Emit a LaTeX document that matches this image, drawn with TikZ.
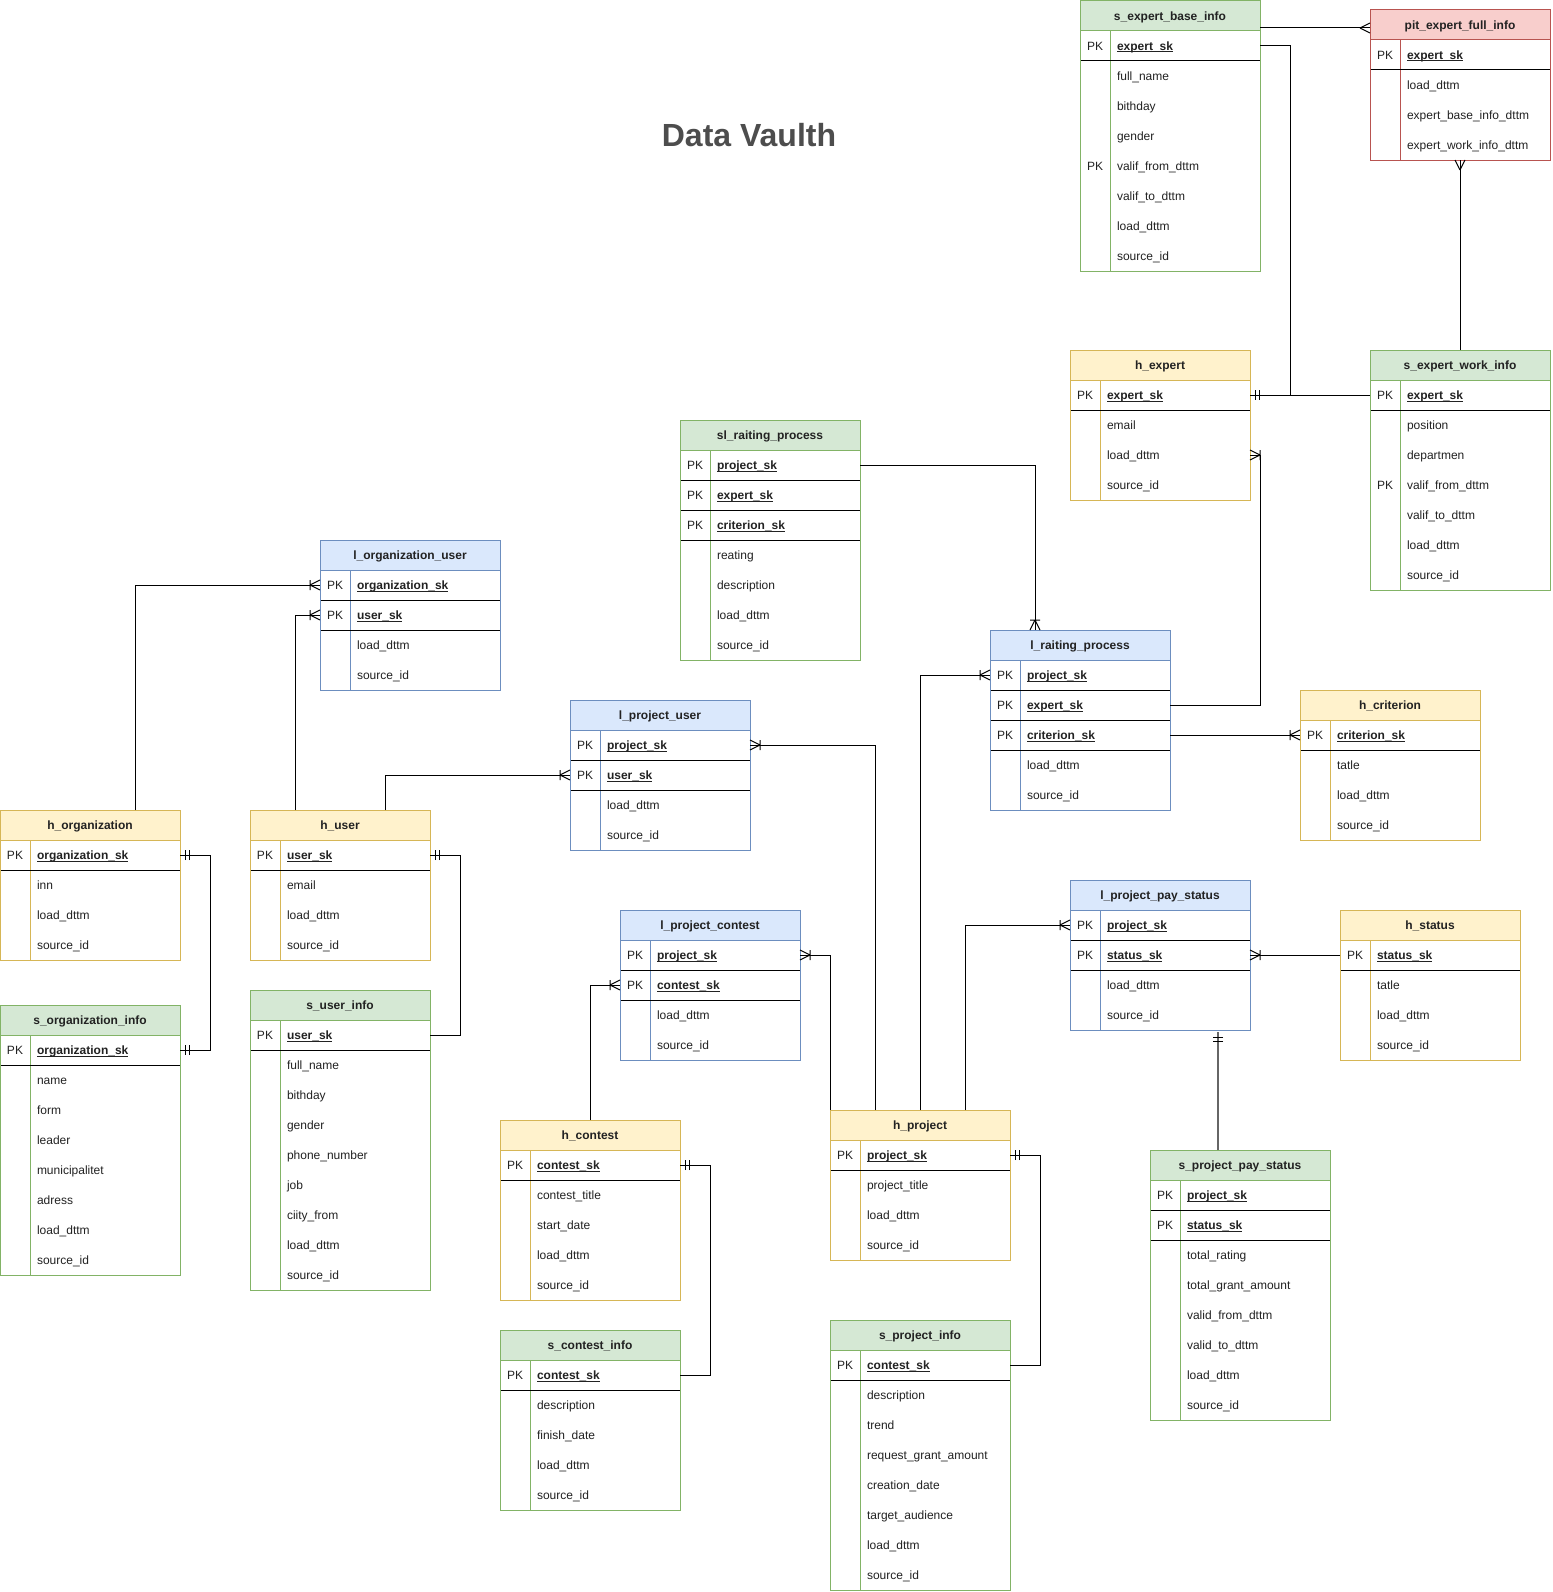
\documentclass[tikz,border=0pt]{standalone}
\usepackage{fontspec}
\setmainfont{Liberation Sans}
\usetikzlibrary{decorations.markings}

% draw.io palette
\definecolor{yfill}{HTML}{FFF2CC}\definecolor{yline}{HTML}{D6B656}
\definecolor{gfill}{HTML}{D5E8D4}\definecolor{gline}{HTML}{82B366}
\definecolor{bfill}{HTML}{DAE8FC}\definecolor{bline}{HTML}{6C8EBF}
\definecolor{rfill}{HTML}{F8CECC}\definecolor{rline}{HTML}{B85450}
\definecolor{titlegray}{HTML}{4D4D4D}
\definecolor{linkgray}{HTML}{666666}
\definecolor{textcol}{HTML}{222222}

\tikzset{
  tabhead/.style={minimum width=180pt, minimum height=30pt, inner sep=0pt, outer sep=0pt,
                  line width=1pt, fill=#1fill, draw=#1line},
  rowcell/.style={minimum width=180pt, minimum height=30pt, inner sep=0pt, outer sep=0pt},
  celltext/.style={inner sep=0pt, outer sep=0pt, text=textcol, font=\fontsize{12}{14}\selectfont},
  keytext/.style={inner sep=0pt, outer sep=0pt, text=textcol, font=\fontsize{12}{14}\selectfont\bfseries},
  headtext/.style={inner sep=0pt, outer sep=0pt, text=textcol, font=\fontsize{12}{14}\selectfont\bfseries},
  conn/.style={draw=black, line width=1pt},
  conngray/.style={draw=linkgray, line width=1.6pt},
  erend/.style={postaction={decorate,decoration={markings,mark=at position 1 with {#1}}}},
  erstart/.style={postaction={decorate,decoration={markings,mark=at position 0 with {\begin{scope}[xscale=-1]#1\end{scope}}}}},
}

% crow's-foot notation symbols (endpoint at origin, line arriving from -x)
\newcommand\symOne{\draw[black, line width=1pt] (-5pt,-5pt) -- (-5pt,5pt) (-9pt,-5pt) -- (-9pt,5pt);}
\newcommand\symMany{\draw[black, line width=1pt] (-10pt,0pt) -- (0pt,5pt) (-10pt,0pt) -- (0pt,-5pt);}
\newcommand\symOneMany{\draw[black, line width=1pt] (-10pt,0pt) -- (0pt,5pt) (-10pt,0pt) -- (0pt,-5pt) (-10pt,-5pt) -- (-10pt,5pt);}

\def\ertK{k}\def\ertN{n}
% \ertable{name}{left}{top}{theme}{title}{kind/field,...}  kind: k = key, p = PK flag only, n = plain
\newcommand\ertable[6]{%
  \node[tabhead=#4, anchor=north west] (#1) at (#2,#3) {};
  \node[headtext, anchor=base] (#1-title) at (#2+90,#3+19.3) {#5};
  \foreach[count=\i] \ertkind/\erttext in {#6}{\xdef\ertcount{\i}}%
  \pgfmathsetmacro\rb{#3+30*(\ertcount+1)}
  \fill[white] (#2,#3+30) rectangle (#2+180,\rb);
  \draw[draw=#4line, line width=1pt] (#2+30,#3+30) -- (#2+30,\rb);
  \foreach[count=\i] \ertkind/\erttext in {#6}{%
    \pgfmathsetmacro\ry{#3+30*\i}%
    \node[rowcell, anchor=north west] (#1-\i) at (#2,\ry) {};
    \ifx\ertkind\ertK
      \node[celltext, anchor=base] (#1-\i-pk) at (#2+15,\ry+19.3) {PK};
      \node[keytext, anchor=base west] (#1-\i-f) at (#2+37,\ry+19.3) {\erttext};
      \draw[textcol, line width=0.8pt] ([yshift=-1.6pt]#1-\i-f.base west) -- ([yshift=-1.6pt]#1-\i-f.base east);
      \draw[black, line width=1pt] (#2,\ry+30) -- (#2+180,\ry+30);
    \else
      \ifx\ertkind\ertN\else
        \node[celltext, anchor=base] (#1-\i-pk) at (#2+15,\ry+19.3) {PK};
      \fi
      \node[celltext, anchor=base west] (#1-\i-f) at (#2+37,\ry+19.3) {\erttext};
    \fi
  }
  \draw[draw=#4line, line width=1pt] (#2,#3+30) rectangle (#2+180,\rb);
}

\begin{document}
\catcode`\_=12
\begin{tikzpicture}[x=1pt, y=-1pt]
\useasboundingbox (0,0) rectangle (1552,1592);
\fill[white] (0,0) rectangle (1552,1592);

\node[font=\fontsize{32}{38}\selectfont\bfseries, text=titlegray, inner sep=0pt, anchor=base] (title) at (749,146.7) {Data Vaulth};

% expert satellites and hub
\ertable{seb}{1080}{1}{g}{s_expert_base_info}{k/expert_sk, n/full_name, n/bithday, n/gender, p/valif_from_dttm, n/valif_to_dttm, n/load_dttm, n/source_id}
\ertable{pit}{1370}{10}{r}{pit_expert_full_info}{k/expert_sk, n/load_dttm, n/expert_base_info_dttm, n/expert_work_info_dttm}
\ertable{hexp}{1070}{350}{y}{h_expert}{k/expert_sk, n/email, n/load_dttm, n/source_id}
\ertable{sew}{1370}{350}{g}{s_expert_work_info}{k/expert_sk, n/position, n/departmen, p/valif_from_dttm, n/valif_to_dttm, n/load_dttm, n/source_id}

% rating process
\ertable{slrp}{680}{420}{g}{sl_raiting_process}{k/project_sk, k/expert_sk, k/criterion_sk, n/reating, n/description, n/load_dttm, n/source_id}
\ertable{lrp}{990}{630}{b}{l_raiting_process}{k/project_sk, k/expert_sk, k/criterion_sk, n/load_dttm, n/source_id}
\ertable{hcrit}{1300}{690}{y}{h_criterion}{k/criterion_sk, n/tatle, n/load_dttm, n/source_id}

% organisations and users
\ertable{lou}{320}{540}{b}{l_organization_user}{k/organization_sk, k/user_sk, n/load_dttm, n/source_id}
\ertable{lpu}{570}{700}{b}{l_project_user}{k/project_sk, k/user_sk, n/load_dttm, n/source_id}
\ertable{horg}{0}{810}{y}{h_organization}{k/organization_sk, n/inn, n/load_dttm, n/source_id}
\ertable{huser}{250}{810}{y}{h_user}{k/user_sk, n/email, n/load_dttm, n/source_id}
\ertable{sorg}{0}{1005}{g}{s_organization_info}{k/organization_sk, n/name, n/form, n/leader, n/municipalitet, n/adress, n/load_dttm, n/source_id}
\ertable{suser}{250}{990}{g}{s_user_info}{k/user_sk, n/full_name, n/bithday, n/gender, n/phone_number, n/job, n/ciity_from, n/load_dttm, n/source_id}

% projects, contests, statuses
\ertable{lpc}{620}{910}{b}{l_project_contest}{k/project_sk, k/contest_sk, n/load_dttm, n/source_id}
\ertable{lpps}{1070}{880}{b}{l_project_pay_status}{k/project_sk, k/status_sk, n/load_dttm, n/source_id}
\ertable{hstat}{1340}{910}{y}{h_status}{k/status_sk, n/tatle, n/load_dttm, n/source_id}
\ertable{hcon}{500}{1120}{y}{h_contest}{k/contest_sk, n/contest_title, n/start_date, n/load_dttm, n/source_id}
\ertable{hproj}{830}{1110}{y}{h_project}{k/project_sk, n/project_title, n/load_dttm, n/source_id}
\ertable{scon}{500}{1330}{g}{s_contest_info}{k/contest_sk, n/description, n/finish_date, n/load_dttm, n/source_id}
\ertable{sproj}{830}{1320}{g}{s_project_info}{k/contest_sk, n/description, n/trend, n/request_grant_amount, n/creation_date, n/target_audience, n/load_dttm, n/source_id}
\ertable{spps}{1150}{1150}{g}{s_project_pay_status}{k/project_sk, k/status_sk, n/total_rating, n/total_grant_amount, n/valid_from_dttm, n/valid_to_dttm, n/load_dttm, n/source_id}

% relationships
\coordinate (pitin) at ([yshift=-3pt]pit.west);
\draw[conn, erend=\symMany] (seb.east |- pitin) -- (pitin);
\draw[conn, erend=\symOne] (seb-1.east) -| ([xshift=40pt]hexp-1.east) -- (hexp-1.east);
\draw[conn, erend=\symOne] (sew-1.west) -- (hexp-1.east);
\draw[conn, erend=\symMany] (sew.north) -- (pit-4.south);

\draw[conn, erend=\symOneMany] (slrp-1.east) -| ([xshift=-45pt]lrp.north);
\draw[conn, erend=\symOneMany] (lrp-2.east) -| ([xshift=10pt]hexp-3.east) -- (hexp-3.east);
\draw[conn, erend=\symOneMany] (lrp-3.east) -- (hcrit-1.west);

\draw[conn, erend=\symOneMany] (hproj.north) |- (lrp-1.west);
\draw[conn, erend=\symOneMany] ([xshift=-45pt]hproj.north) |- (lpu-1.east);
\draw[conn, erend=\symOneMany] (hproj.north west) |- (lpc-1.east);
\draw[conn, erend=\symOneMany] ([xshift=45pt]hproj.north) |- (lpps-1.west);
\draw[conn, erend=\symOneMany] (hcon.north) |- (lpc-2.west);

\draw[conn, erstart=\symOne] (hcon-1.east) -| ([xshift=30pt]scon-1.east) -- (scon-1.east);
\draw[conn, erstart=\symOne] (hproj-1.east) -| ([xshift=30pt]sproj-1.east) -- (sproj-1.east);
\draw[conn, erstart=\symOne, erend=\symOne] (horg-1.east) -| ([xshift=30pt]sorg-1.east) -- (sorg-1.east);
\draw[conn, erstart=\symOne] (huser-1.east) -| ([xshift=30pt]suser-1.east) -- (suser-1.east);

\draw[conn, erend=\symOneMany] ([xshift=45pt]horg.north) |- (lou-1.west);
\draw[conn, erend=\symOneMany] ([xshift=-45pt]huser.north) |- (lou-2.west);
\draw[conn, erend=\symOneMany] ([xshift=45pt]huser.north) |- (lpu-2.west);

\draw[conn, erend=\symOneMany] (hstat-1.west) -- (lpps-2.east);
\coordinate (ppsend) at (1218,1032);
\draw[conngray, erend=\symOne] (spps.north -| ppsend) -- (ppsend);
\end{tikzpicture}
\end{document}
